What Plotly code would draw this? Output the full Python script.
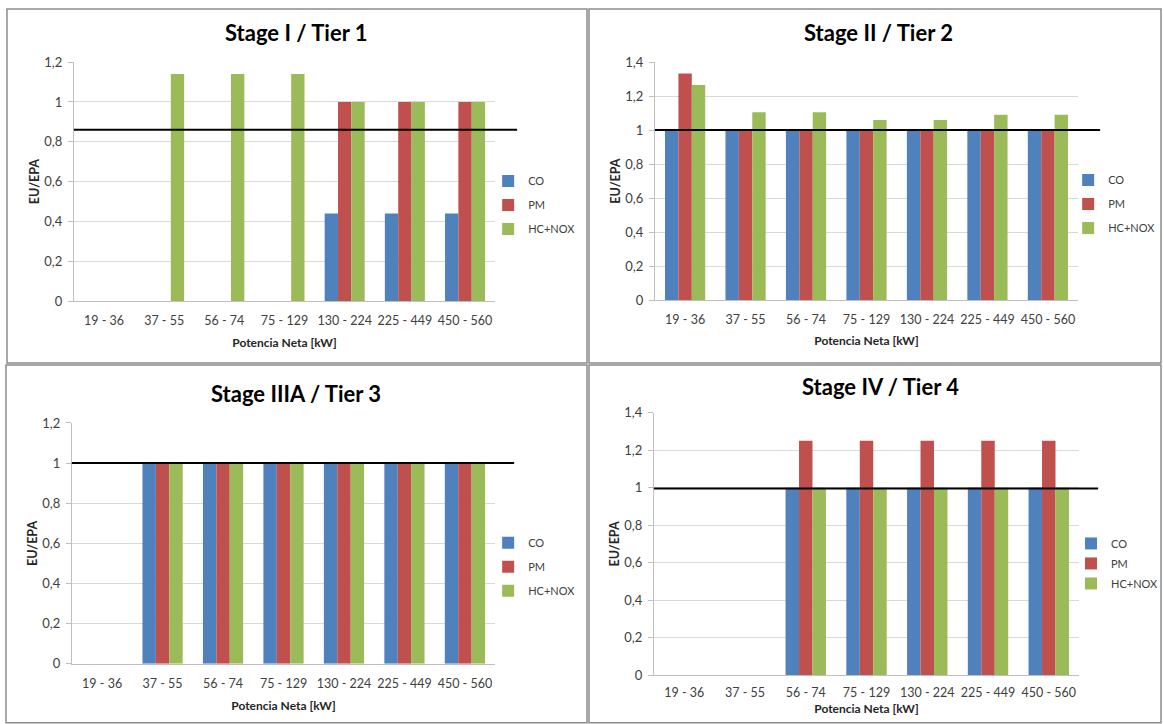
import plotly.graph_objects as go

categories = ["19 - 36", "37 - 55", "56 - 74", "75 - 129", "130 - 224", "225 - 449", "450 - 560"]
series_names = ["CO", "PM", "HC+NOX"]
colors = ["#4F81BD", "#C0504D", "#9BBB59"]

titles = ["Stage I / Tier 1", "Stage II / Tier 2", "Stage IIIA / Tier 3", "Stage IV / Tier 4"]

# Stage I / Tier 1
co_1 = [None, None, None, None, 0.44, 0.44, 0.44]
pm_1 = [None, None, None, None, 1.0, 1.0, 1.0]
hc_1 = [None, 1.14, 1.14, 1.14, 1.0, 1.0, 1.0]
# Stage II / Tier 2
co_2 = [1.0, 1.0, 1.0, 1.0, 1.0, 1.0, 1.0]
pm_2 = [1.333, 1.0, 1.0, 1.0, 1.0, 1.0, 1.0]
hc_2 = [1.265, 1.105, 1.105, 1.06, 1.06, 1.09, 1.09]
# Stage IIIA / Tier 3
co_3 = [None, 1.0, 1.0, 1.0, 1.0, 1.0, 1.0]
pm_3 = [None, 1.0, 1.0, 1.0, 1.0, 1.0, 1.0]
hc_3 = [None, 1.0, 1.0, 1.0, 1.0, 1.0, 1.0]
# Stage IV / Tier 4
co_4 = [None, None, 1.0, 1.0, 1.0, 1.0, 1.0]
pm_4 = [None, None, 1.25, 1.25, 1.25, 1.25, 1.25]
hc_4 = [None, None, 1.0, 1.0, 1.0, 1.0, 1.0]

panel_series = [(co_1, pm_1, hc_1), (co_2, pm_2, hc_2), (co_3, pm_3, hc_3), (co_4, pm_4, hc_4)]
reference_lines = [0.86, 1.0, 1.0, 0.995]
y_max = [1.2, 1.4, 1.2, 1.4]
y_tick_vals = [[0, 0.2, 0.4, 0.6, 0.8, 1.0, 1.2], [0, 0.2, 0.4, 0.6, 0.8, 1.0, 1.2, 1.4],
               [0, 0.2, 0.4, 0.6, 0.8, 1.0, 1.2], [0, 0.2, 0.4, 0.6, 0.8, 1.0, 1.2, 1.4]]
y_tick_text = [["0", "0,2", "0,4", "0,6", "0,8", "1", "1,2"], ["0", "0,2", "0,4", "0,6", "0,8", "1", "1,2", "1,4"],
               ["0", "0,2", "0,4", "0,6", "0,8", "1", "1,2"], ["0", "0,2", "0,4", "0,6", "0,8", "1", "1,2", "1,4"]]
x_title = "Potencia Neta [kW]"
y_title = "EU/EPA"

W, H = 1164, 724
FONT = "Lato"

# vertical placement helper (screen -> figure pixel)
def fy(y):
    return y * 740 / 724 - 8

# layout geometry in pixels (left, right, top, bottom) of plot areas
plot_px = [(74, 496, 62, 301), (656, 1080, 62, 300), (72, 496, 423, 664), (655, 1081, 412.7, 675.3)]
line_end_px = [518, 1102, 515, 1100]
title_px = [(297, 32), (880, 32), (297, 394), (882, 387)]
legend_px = [(489, 181), (1070, 180), (489, 543), (1073, 543.7)]
legend_gap = [5, 5, 5, 1]
tick_standoff = [8, 8, 8, 6]
xtitle_standoff = [11, 10, 11, 5]
frame_px = [(7, 588, 5, 363), (590, 1163, 5, 363), (6, 588, 365, 723), (590, 1163, 365, 723)]

fig = go.Figure()

for i in range(4):
    n = i + 1
    xa = "x" if n == 1 else f"x{n}"
    ya = "y" if n == 1 else f"y{n}"
    lg = "legend" if n == 1 else f"legend{n}"
    for name, vals, col in zip(series_names, panel_series[i], colors):
        fig.add_trace(go.Bar(
            x=categories, y=vals, name=name, marker=dict(color=col, line=dict(width=0)),
            xaxis=xa, yaxis=ya, legend=lg, legendgroup=f"{name}{n}", showlegend=True,
            offsetgroup=name,
        ))

    l, r, t, b = plot_px[i]
    xd = [l / W, r / W]
    yd = [1 - fy(b) / H, 1 - fy(t) / H]
    xkey = "xaxis" if n == 1 else f"xaxis{n}"
    ykey = "yaxis" if n == 1 else f"yaxis{n}"
    fig.update_layout(**{
        xkey: dict(domain=xd, anchor=ya, type="category", showgrid=False,
                   showline=True, linecolor="#BFBFBF", linewidth=1, ticks="",
                   ticklabelstandoff=tick_standoff[i],
                   tickfont=dict(family=FONT, size=12.5, color="#404040"),
                   title=dict(text=f"<b>{x_title}</b>", font=dict(family=FONT, size=12, color="#262626"),
                              standoff=xtitle_standoff[i])),
        ykey: dict(domain=yd, anchor=xa, range=[0, y_max[i]], tickvals=y_tick_vals[i], ticktext=y_tick_text[i],
                   showgrid=True, gridcolor="#D9D9D9", gridwidth=1, zeroline=False,
                   showline=True, linecolor="#BFBFBF", linewidth=1, ticks="outside", ticklen=5, tickcolor="#BFBFBF",
                   ticklabelstandoff=3,
                   tickfont=dict(family=FONT, size=13, color="#404040"),
                   title=dict(text=f"<b>{y_title}</b>", font=dict(family=FONT, size=12.5, color="#262626"), standoff=1)),
        lg: dict(x=legend_px[i][0] / W, y=1 - (fy(legend_px[i][1]) - 15) / H, xanchor="left", yanchor="top",
                 font=dict(family=FONT, size=11, color="#404040"), bgcolor="rgba(0,0,0,0)",
                 tracegroupgap=legend_gap[i], traceorder="grouped"),
    })

    # reference ratio line extending past the plot area
    fig.add_shape(type="line", xref=f"{xa} domain", yref=ya, x0=0,
                  x1=(line_end_px[i] - l) / (r - l), y0=reference_lines[i], y1=reference_lines[i],
                  line=dict(color="#000000", width=2), layer="above")

    # panel title
    fig.add_annotation(text=f"<b>{titles[i]}</b>", xref="paper", yref="paper",
                       x=title_px[i][0] / W, y=1 - fy(title_px[i][1]) / H, xanchor="center", yanchor="middle",
                       showarrow=False, font=dict(family=FONT, size=22, color="#000000"))

    # panel frame
    fl, fr, ft, fb = frame_px[i]
    top = max(fy(ft), 1)
    fig.add_shape(type="rect", xref="paper", yref="paper", x0=fl / W, x1=fr / W,
                  y0=1 - fy(fb) / H, y1=1 - top / H,
                  line=dict(color="#8C8C8C", width=1.5), fillcolor="rgba(0,0,0,0)", layer="below")

fig.update_layout(
    width=W, height=H, margin=dict(l=0, r=0, t=0, b=0),
    paper_bgcolor="white", plot_bgcolor="white",
    barmode="group", bargap=0.335, bargroupgap=0,
    font=dict(family=FONT),
)

page_fix = (
    "document.documentElement.style.margin='0';document.documentElement.style.padding='0';"
    "document.documentElement.style.overflow='hidden';"
    "document.body.style.margin='0';document.body.style.padding='0';document.body.style.overflow='hidden';"
    "var gd=document.getElementById('{plot_id}');gd.style.position='fixed';gd.style.top='0px';gd.style.left='0px';"
)
fig.write_html("out.html", config={"displayModeBar": False}, post_script=page_fix)
